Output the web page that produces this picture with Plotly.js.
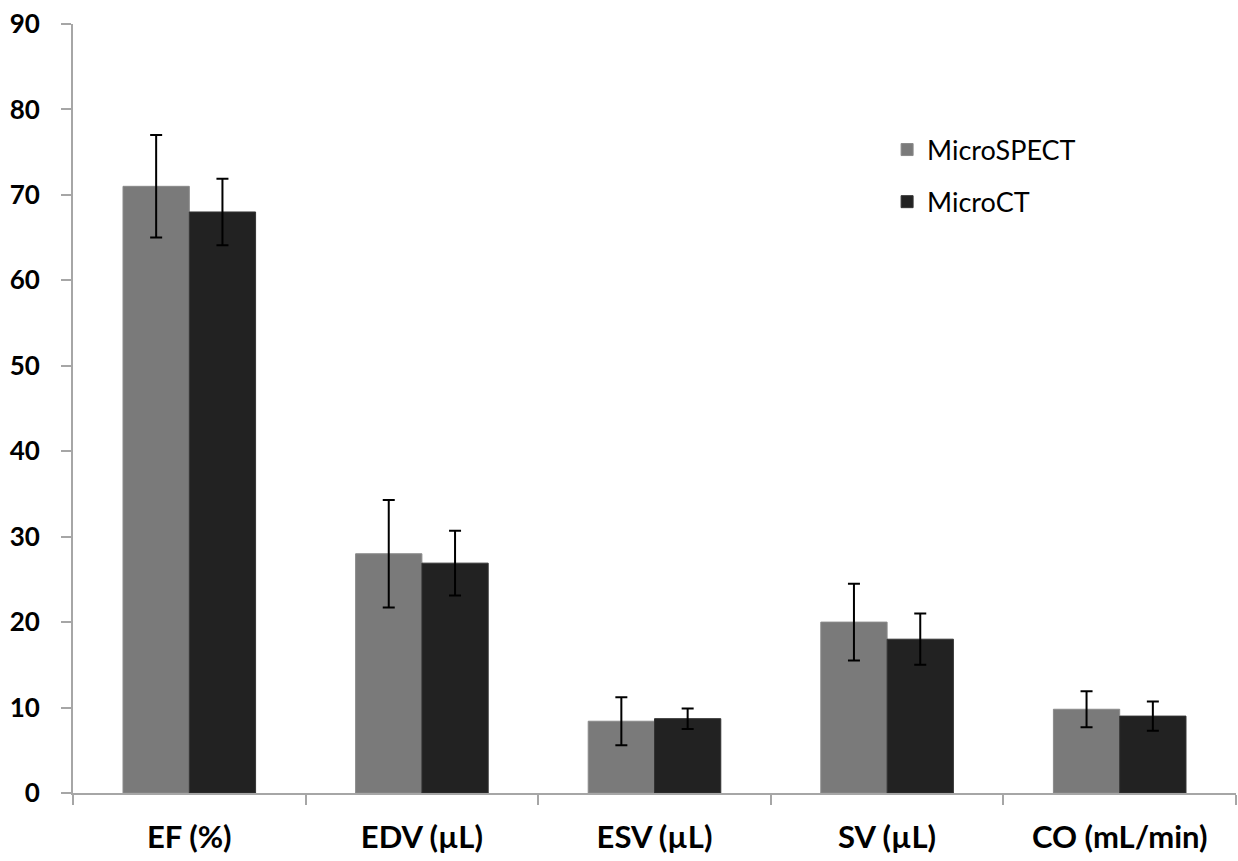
<!DOCTYPE html>
<html>
<head>
<meta charset="utf-8">
<script src="https://cdn.plot.ly/plotly-3.0.1.min.js"></script>
<style>html,body{margin:0;padding:0;background:#fff;}#chart{width:1238px;height:861px;}</style>
</head>
<body>
<div id="chart"></div>
<script>
const categories = ["EF (%)", "EDV (µL)", "ESV (µL)", "SV (µL)", "CO (mL/min)"];
const spectValues = [71.0, 28.0, 8.4, 20.0, 9.8];
const spectErrors = [6.0, 6.3, 2.8, 4.5, 2.1];
const ctValues = [68.0, 26.9, 8.7, 18.0, 9.0];
const ctErrors = [3.9, 3.8, 1.2, 3.0, 1.7];
const yTicks = [0, 10, 20, 30, 40, 50, 60, 70, 80, 90];

const errStyle = {color: "#000000", thickness: 2, width: 6};

const traces = [
  {
    type: "bar", name: "MicroSPECT", x: categories, y: spectValues,
    marker: {color: "#7a7a7a", line: {color: "#8a8a8a", width: 1}},
    error_y: Object.assign({type: "data", array: spectErrors, visible: true}, errStyle),
    legendgroup: "a"
  },
  {
    type: "bar", name: "MicroCT", x: categories, y: ctValues,
    marker: {color: "#222222", line: {color: "#333333", width: 1}},
    error_y: Object.assign({type: "data", array: ctErrors, visible: true}, errStyle),
    legendgroup: "b"
  }
];

const layout = {
  width: 1238, height: 861,
  margin: {l: 73, r: 2, t: 24, b: 68},
  paper_bgcolor: "#ffffff", plot_bgcolor: "#ffffff",
  barmode: "group", bargap: 0.43, bargroupgap: 0,
  font: {family: "Lato, 'Open Sans', sans-serif", color: "#000000"},
  showlegend: true,
  legend: {
    x: 0.70, y: 0.868, xanchor: "left", yanchor: "top",
    font: {size: 27, family: "Lato, 'Open Sans', sans-serif", color: "#000"},
    traceorder: "grouped", tracegroupgap: 14,
    bgcolor: "rgba(0,0,0,0)", itemwidth: 30
  },
  xaxis: {
    type: "category",
    showline: true, linecolor: "#a6a6a6", linewidth: 2,
    ticks: "outside", tickson: "boundaries", ticklen: 10, tickcolor: "#a6a6a6", tickwidth: 2,
    tickfont: {size: 31, family: "Lato, 'Open Sans', sans-serif", weight: "bold", color: "#000"},
    ticklabelstandoff: 16,
    showgrid: false, zeroline: false
  },
  yaxis: {
    range: [0, 90], tickvals: yTicks, ticktext: yTicks.map(String),
    showline: true, linecolor: "#a6a6a6", linewidth: 2,
    ticks: "outside", ticklen: 10, tickcolor: "#a6a6a6", tickwidth: 2,
    tickfont: {size: 26, family: "Lato, 'Open Sans', sans-serif", weight: "bold", color: "#000"},
    ticklabelstandoff: 16,
    showgrid: false, zeroline: false
  }
};

Plotly.newPlot("chart", traces, layout, {displayModeBar: false, staticPlot: true});
</script>
</body>
</html>
